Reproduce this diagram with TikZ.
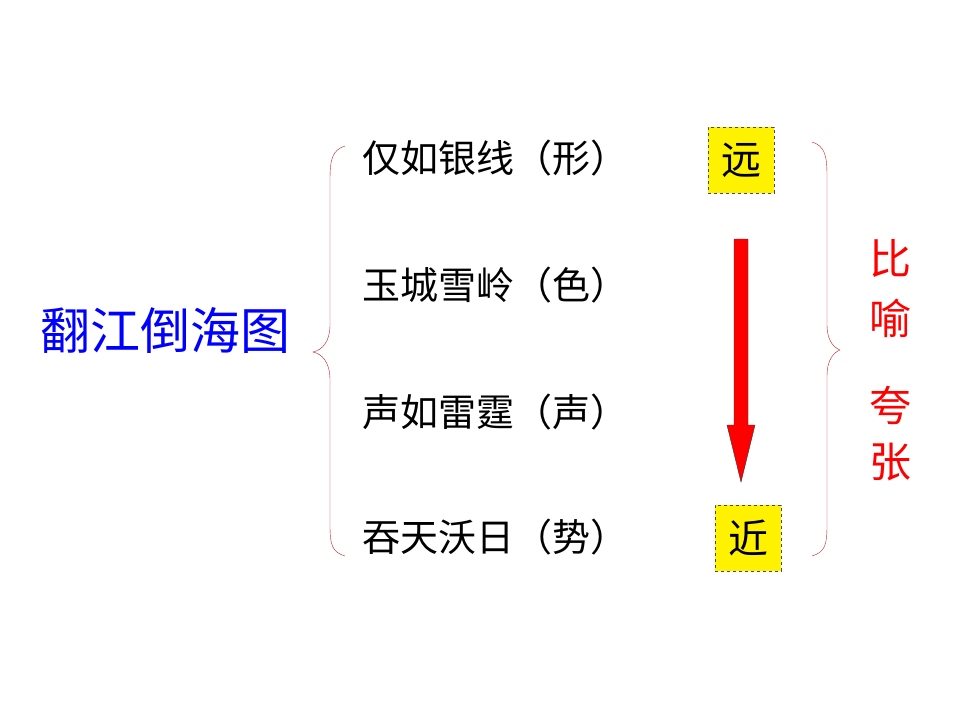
\documentclass[tikz,border=0pt]{standalone}
\usepackage{fontspec}
\setmainfont{Noto Sans CJK SC}
\usepackage{xcolor}
\definecolor{bracered}{RGB}{190,30,30}

\begin{document}
\begin{tikzpicture}[x=1pt,y=-1pt,
rowtext/.style={anchor=west, inner sep=0pt, font=\fontsize{38}{40}\selectfont},
markbox/.style={rectangle, draw=black!70, dashed, fill=yellow, minimum width=66pt, minimum height=66pt, inner sep=0pt, font=\fontsize{40}{42}\selectfont},
sidetext/.style={text=red, inner sep=0pt, font=\fontsize{42}{44}\selectfont},
]
\useasboundingbox (0,0) rectangle (960,720);
%Nodes
\node[text=blue, inner sep=0pt, anchor=west, font=\fontsize{50}{52}\selectfont](Title) at (40,330){翻江倒海图};
\node[rowtext](Shape) at (362,158){仅如银线（形）};
\node[rowtext](Colour) at (362,285){玉城雪岭（色）};
\node[rowtext](Sound) at (362,412){声如雷霆（声）};
\node[rowtext](Force) at (362,537){吞天沃日（势）};
\node[markbox](Far) at (741,160){远};
\node[markbox](Near) at (748,538){近};
\node[sidetext](Bi) at (890,258){比};
\node[sidetext](Yu) at (890,318){喻};
\node[sidetext](Kua) at (890,405){夸};
\node[sidetext](Zhang) at (890,462){张};

%Braces
\draw[bracered, thin] (345,146) .. controls (332,150) and (330,160) .. (330,180) -- (330,325)
  .. controls (330,342) and (322,350) .. (313,352)
  .. controls (322,354) and (330,362) .. (330,380) -- (330,525)
  .. controls (330,545) and (332,552) .. (345,556);
\draw[bracered, thin] (812,142) .. controls (825,146) and (827,156) .. (827,176) -- (827,325)
  .. controls (827,342) and (835,348) .. (840,350)
  .. controls (835,352) and (827,358) .. (827,376) -- (827,525)
  .. controls (827,545) and (825,552) .. (812,556);

%Arrow
\draw[fill=red, draw=black!80, thin] (734,239) -- (748,239) -- (748,425) -- (755,425)
  -- (741,482) -- (727,425) -- (734,425) -- cycle;
\end{tikzpicture}
\end{document}
